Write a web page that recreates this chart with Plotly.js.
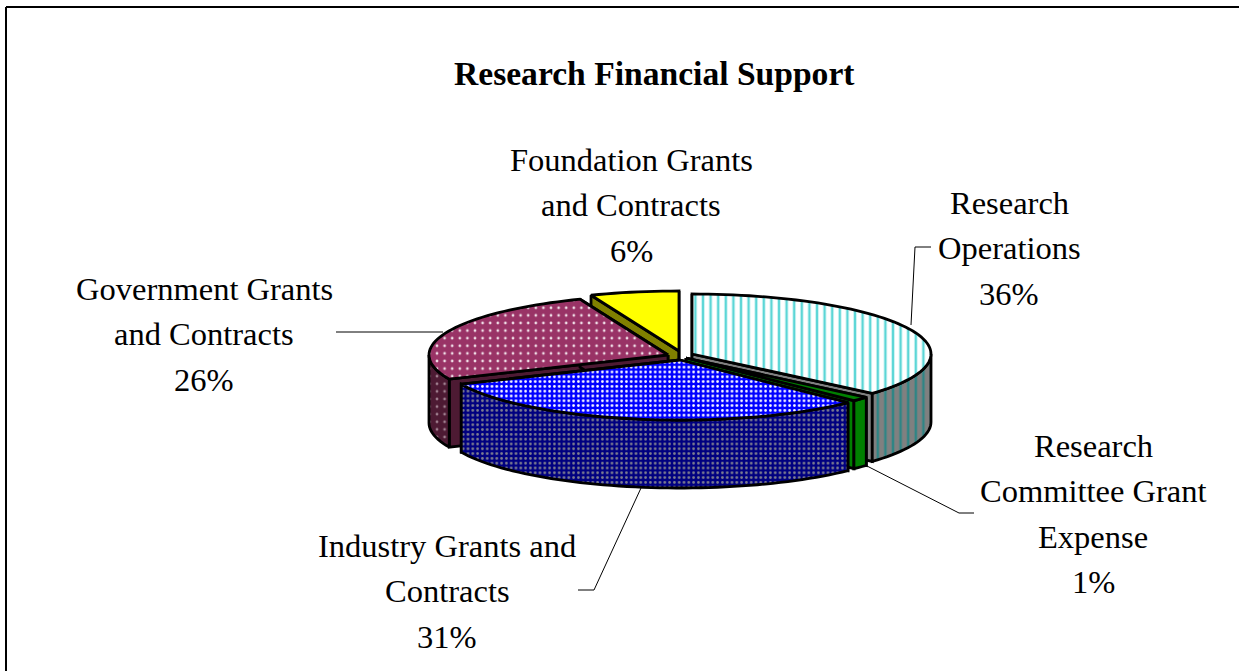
<!DOCTYPE html>
<html><head><meta charset="utf-8">
<script src="https://cdn.plot.ly/plotly-3.0.1.min.js"></script>
<style>html,body{margin:0;padding:0;background:#fff}#c{width:1239px;height:671px}</style>
</head><body><div id="c"></div>
<script>
const categories = ["Research Operations","Research Committee Grant Expense","Industry Grants and Contracts","Government Grants and Contracts","Foundation Grants and Contracts"];
const percents = [36.4,1.2,30.8,25.6,6.0];
const titleText = "Research Financial Support";
const labelLines = [
 ["Research","Operations","36%"],
 ["Research","Committee Grant","Expense","1%"],
 ["Industry Grants and","Contracts","31%"],
 ["Government Grants","and Contracts","26%"],
 ["Foundation Grants","and Contracts","6%"]];

// projected geometry of the exploded tilted pie
const RX=239, RY=60, DEPTH=68;
const apex=[[692,354],[686,358],[680,360],[668,355],[679,351]];
const labelPos=[[1009,203],[1093,446],[447,546],[204,289],[631,160]];
const LINE=45.4;
const styles=[
 {top:{bg:"#ffffff",fg:"#5cd6d6",shape:"|",size:7.6,sol:.33},wall:{bg:"#808080",fg:"#2f8585",shape:"|",size:7.6,sol:.33},cut:"#808080"},
 {top:{bg:"#008000"},wall:{bg:"#008000"},cut:"#008000"},
 {top:{bg:"#0000ff",fg:"#ffffff",shape:".",size:4.8,sol:.25},wall:{bg:"#000080",fg:"#808090",shape:".",size:4.8,sol:.25},cut:"#000080"},
 {top:{bg:"#993366",fg:"#f0e0e8",shape:".",size:7.6,sol:.1},wall:{bg:"#4d1a33",fg:"#a08090",shape:".",size:7.6,sol:.1},cut:"#4d1a33"},
 {top:{bg:"#ffff00"},wall:{bg:"#808000"},cut:"#808000"}];

const D2R=Math.PI/180;
let acc=0; const spans=percents.map(p=>{const s=[acc*3.6,(acc+p)*3.6];acc+=p;return s;});
const pt=(i,t)=>[apex[i][0]+RX*Math.sin(t*D2R),apex[i][1]-RY*Math.cos(t*D2R)];
function arc(i,a,b){const o=[];const n=Math.max(2,Math.ceil(Math.abs(b-a)/2));for(let k=0;k<=n;k++)o.push(pt(i,a+(b-a)*k/n));return o;}

function poly(pts,st,name){
  const tr={type:"scatter",mode:"lines",x:pts.map(p=>p[0]),y:pts.map(p=>p[1]),fill:"toself",
    fillcolor:st.bg,line:{color:"#000",width:2.8,simplify:false},hoverinfo:"text",text:name,showlegend:false};
  if(st.shape) tr.fillpattern={shape:st.shape,fgcolor:st.fg,bgcolor:st.bg,size:st.size,solidity:st.sol,fillmode:"replace"};
  return tr;
}
const traces=[];
function slice(i){
  const [a,b]=spans[i],st=styles[i],ap=apex[i],name=categories[i];
  const dn=p=>[p[0],p[1]+DEPTH];
  [a,b].forEach(t=>{const e=pt(i,t);traces.push(poly([ap,e,dn(e),dn(ap),ap],{bg:st.cut},name));});
  const wa=Math.max(a,90), wb=Math.min(b,270);
  if(wb>wa){const r=arc(i,wa,wb);traces.push(poly(r.concat(r.slice().reverse().map(dn)).concat([r[0]]),st.wall,name));}
  traces.push(poly([ap].concat(arc(i,a,b)).concat([ap]),st.top,name));
}
[4,3,0,1,2].forEach(slice);

// leader lines
const leaders=[
 [[931,247],[915,247],[911,325]],
 [[867,466],[959,513],[974,513]],
 [[641,488],[594,590],[578,590]],
 [[336,332],[443,332]]];
const shapes=[
 {type:"line",xref:"x",yref:"y",x0:6,y0:7,x1:1239,y1:7,line:{color:"#000",width:2}},
 {type:"line",xref:"x",yref:"y",x0:6,y0:7,x1:6,y1:671,line:{color:"#000",width:2}}];
leaders.forEach(l=>{for(let k=0;k<l.length-1;k++)shapes.push({type:"line",xref:"x",yref:"y",x0:l[k][0],y0:l[k][1],x1:l[k+1][0],y1:l[k+1][1],line:{color:"#000",width:1},layer:"below"});});

const annotations=[{text:"<b>"+titleText+"</b>",x:654,y:73,xref:"x",yref:"y",showarrow:false,xanchor:"center",yanchor:"middle",font:{family:"Liberation Serif",size:33.6,color:"#000"}}];
labelLines.forEach((ls,i)=>ls.forEach((t,k)=>annotations.push({text:t,x:labelPos[i][0],y:labelPos[i][1]+k*LINE,xref:"x",yref:"y",showarrow:false,xanchor:"center",yanchor:"middle",font:{family:"Liberation Serif",size:32.5,color:"#000"}})));

Plotly.newPlot("c",traces,{width:1239,height:671,margin:{l:0,r:0,t:0,b:0},paper_bgcolor:"#fff",plot_bgcolor:"#fff",showlegend:false,
 xaxis:{range:[0,1239],visible:false,fixedrange:true},yaxis:{range:[671,0],visible:false,fixedrange:true},shapes,annotations},{displayModeBar:false,staticPlot:true});
</script></body></html>
